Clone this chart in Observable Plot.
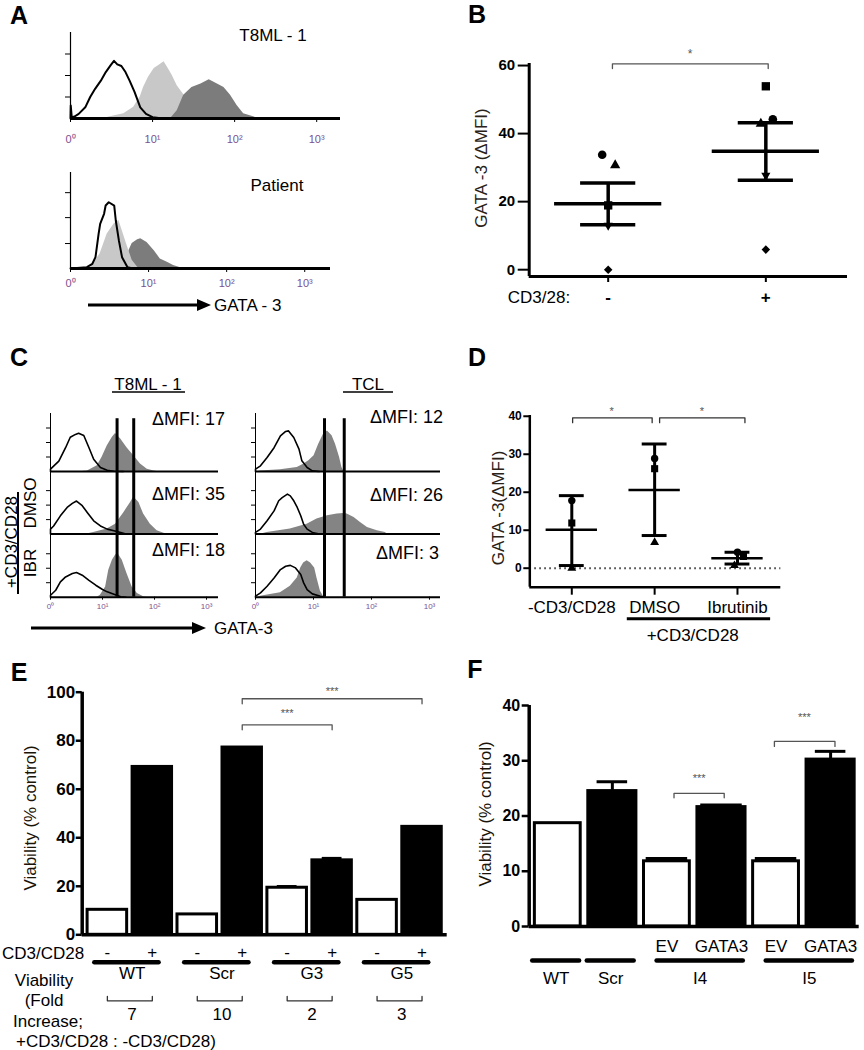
<!DOCTYPE html>
<html><head><meta charset="utf-8">
<script src="https://cdn.jsdelivr.net/npm/d3@7"></script>
<script src="https://cdn.jsdelivr.net/npm/@observablehq/plot@0.6"></script>
<style>
body{margin:0;background:#fff;}
#fig{position:relative;width:864px;height:1050px;overflow:hidden;background:#fff;font-family:"Liberation Sans",Arial,Helvetica,sans-serif;color:#000;}
.lbl{position:absolute;white-space:nowrap;line-height:1;}
</style></head><body><div id="fig"></div>
<script>
// ================= DATA =================
const logTicks = ["0\u2070", "10\u00B9", "10\u00B2", "10\u00B3"];

// Panel A : histograms [log10 GATA-3, relative count]
const aTopOpen = [[0,0],[0.003,15],[0.015,1.6],[0.05,2.3],[0.1,5.4],[0.18,13],[0.24,25],[0.3,34.5],[0.37,44],[0.43,54],[0.49,62],[0.53,67],[0.57,63],[0.62,61],[0.67,54],[0.72,44],[0.78,31],[0.85,13],[0.92,5.4],[1.0,1.6],[1.1,0.4],[1.5,0]];
const aTopLight = [[0.4,0],[0.47,1.6],[0.65,5.4],[0.77,13],[0.85,25],[0.89,36],[0.95,48],[1.02,58],[1.08,62],[1.14,66],[1.18,60],[1.24,50],[1.3,38],[1.37,29],[1.43,21],[1.5,13],[1.59,5.4],[1.67,1.6],[1.75,0]];
const aTopDark = [[1.22,0],[1.3,9],[1.38,27],[1.48,36],[1.59,40],[1.69,45],[1.79,40],[1.87,36],[1.95,27],[2.03,15],[2.11,5.4],[2.24,1.6],[2.28,0]];
const aBotOpen = [[0,0],[0.21,1.4],[0.28,4.9],[0.32,11.8],[0.36,36],[0.38,46.5],[0.43,57],[0.45,65.6],[0.49,69],[0.56,65.6],[0.58,50],[0.62,29],[0.66,11.8],[0.73,1.4],[0.8,0]];
const aBotLight = [[0.22,0],[0.26,1.4],[0.38,15.3],[0.47,36],[0.56,46.5],[0.62,50],[0.66,40],[0.73,22.6],[0.79,8.7],[0.86,1.4],[0.9,0]];
const aBotDark = [[0.7,0],[0.75,18.8],[0.79,26],[0.86,30],[0.9,31],[0.98,27],[1.07,18.8],[1.15,10],[1.24,6.6],[1.32,3],[1.39,1.4],[1.45,0]];
const aTitles = ["T8ML - 1", "Patient"];

// Panel B
const bCats = ["-", "+"];
const bCircle = [33.8, 44.2];
const bTriangle = [30.7, 42.9];
const bSquare = [18.9, 53.9];
const bTriDown = [13.0, 27.7];
const bDiamond = [0, 5.9];
const bMean = [19.4, 34.8];
const bUpper = [25.5, 43.2];
const bLower = [13.2, 26.3];

// Panel C
const cLines = ["T8ML - 1", "TCL"];
const cMFI = [[17, 35, 18], [12, 26, 3]];
const cGates = [[1.28, 1.6], [1.19, 1.53]];
const cL1Open = [[0,0],[0,4],[0.16,18],[0.29,41],[0.38,59],[0.48,64],[0.54,66],[0.64,62],[0.74,41],[0.83,21],[0.96,7],[1.09,2],[1.22,0.5],[1.4,0]];
const cL1Fill = [[0.6,0],[0.71,1],[0.9,10],[0.99,24],[1.09,44],[1.19,59],[1.25,65.5],[1.35,56],[1.47,41],[1.6,27],[1.73,13],[1.86,4],[1.99,1],[2.05,0]];
const cL2Open = [[0,0],[0,8.6],[0.06,14],[0.19,31.5],[0.32,46],[0.42,53],[0.5,57],[0.61,49],[0.71,37],[0.83,23],[0.96,14],[1.09,8.6],[1.22,5.7],[1.35,2.9],[1.45,0]];
const cL2Fill = [[0.7,0],[0.83,2.9],[1.09,8.6],[1.25,17],[1.41,37],[1.54,54.5],[1.6,64],[1.7,54.5],[1.79,34.5],[1.92,17],[2.05,5.7],[2.18,1.3],[2.25,0]];
const cL3Open = [[0,0],[0,3.4],[0.1,12],[0.19,26.4],[0.29,35],[0.42,40.8],[0.5,42.5],[0.61,38],[0.74,29],[0.87,20.7],[1.0,13.2],[1.09,9.2],[1.22,5.2],[1.35,0.6],[1.45,0]];
const cL3Fill = [[0.9,0],[0.96,3.4],[1.06,17.8],[1.12,46.5],[1.19,63.8],[1.25,72.4],[1.29,76.4],[1.38,63.8],[1.47,40.8],[1.57,17.8],[1.67,6.3],[1.79,0.6],[1.85,0]];
const cR1Open = [[0,0],[0,4],[0.086,9.8],[0.2,24],[0.32,41],[0.43,61.5],[0.52,69],[0.57,70],[0.66,58.6],[0.75,38.5],[0.8,18.4],[0.89,6.9],[0.98,1.1],[1.1,0]];
const cR1Fill = [[0.05,0],[0.086,1],[0.43,3],[0.72,7],[0.83,12.6],[0.92,18.4],[1.01,27],[1.09,47],[1.17,64],[1.24,70],[1.32,61.5],[1.38,47],[1.45,24],[1.49,6.9],[1.52,1],[1.55,0]];
const cR2Open = [[0,0],[0,2.9],[0.086,8.6],[0.2,23],[0.32,40],[0.4,57.5],[0.46,63],[0.55,69],[0.6,66],[0.66,57.5],[0.72,46],[0.78,31.6],[0.83,17],[0.89,8.6],[0.98,2.9],[1.1,0]];
const cR2Fill = [[0.1,0],[0.2,2.9],[0.6,8.6],[0.89,17],[1.06,26],[1.24,31.6],[1.41,34.5],[1.52,35.6],[1.58,34.5],[1.7,28.7],[1.81,20],[1.93,11.5],[2.1,5.7],[2.24,2.9],[2.27,0]];
const cR3Open = [[0,0],[0,1.7],[0.086,7.5],[0.2,19],[0.32,33],[0.43,47.7],[0.52,53.4],[0.6,55],[0.69,50.6],[0.78,39],[0.83,24.7],[0.89,13.2],[0.98,5.7],[1.12,1.7],[1.2,0]];
const cR3Fill = [[0.05,0],[0.086,1.7],[0.43,7.5],[0.6,19],[0.72,33],[0.78,50.6],[0.83,59],[0.89,63],[0.95,59],[1.02,50.6],[1.06,33],[1.12,10.3],[1.17,1.7],[1.19,0]];

// Panel D
const dCats = ["-CD3/CD28", "DMSO", "Ibrutinib"];
const dCircle = [17.8, 28.9, 4.2];
const dSquare = [11.9, 26.2, 3.1];
const dTriangle = [0, 6.8, 0.7];
const dMean = [10.1, 20.6, 2.6];
const dUpper = [19.1, 32.7, 4.2];
const dLower = [0.7, 8.6, 1.1];

// Panel E
const eGroups = ["WT", "Scr", "G3", "G5"];
const eMinus = [10.3, 8.4, 19.4, 14.4];
const eMinusErr = [0, 0, 0.6, 0];
const ePlus = [69.4, 77.4, 30.9, 44.7];
const ePlusErr = [0, 0, 0.7, 0];
const eFold = [7, 10, 2, 3];

// Panel F
const fBars = ["WT", "Scr", "EV", "GATA3", "EV", "GATA3"];
const fValues = [18.7, 24.6, 11.8, 21.7, 11.8, 30.3];
const fErr = [0, 1.6, 0.5, 0.3, 0.5, 1.4];
const fGroups = ["WT", "Scr", "I4", "I5"];
const fGroupBars = [[0], [1], [2, 3], [4, 5]];

// ================= HELPERS =================
const FONT = '"Liberation Sans", Arial, Helvetica, sans-serif';
const TICKC = "#7a5190";
const fig = document.getElementById("fig");

function makePlot(box, frame, opts) {
  const [x0, y0, x1, y1] = box, [fl, ft, fr, fb] = frame;
  const p = Plot.plot({
    width: x1 - x0, height: y1 - y0,
    marginLeft: fl - x0, marginRight: x1 - fr, marginTop: ft - y0, marginBottom: y1 - fb,
    style: {background: "transparent", overflow: "visible", fontFamily: FONT, fontSize: "15px", color: "#000"},
    ...opts
  });
  p.style.position = "absolute";
  p.style.left = x0 + "px";
  p.style.top = y0 + "px";
  p.style.maxWidth = "none";
  fig.appendChild(p);
  return p;
}
function T(txt, x, y, o = {}) {
  const d = document.createElement("div");
  d.className = "lbl";
  d.textContent = txt;
  const a = o.anchor || "middle";
  const tx = a === "start" ? "0" : a === "end" ? "-100%" : "-50%";
  d.style.left = x + "px";
  d.style.top = y + "px";
  d.style.fontSize = (o.size || 17) + "px";
  d.style.fontWeight = o.weight || "normal";
  d.style.color = o.color || "#000";
  d.style.transform = `translate(${tx},-50%)` + (o.rotate ? ` rotate(${o.rotate}deg)` : "");
  fig.appendChild(d);
}
const X0 = d => d[0], Y1 = d => d[1];

// ================= PANEL A =================
makePlot([0, 25, 360, 160], [70, 32, 340, 118], {
  x: {domain: [0, 3.29], axis: null}, y: {domain: [0, 100], axis: null},
  marks: [
    Plot.areaY(aTopLight, {x: X0, y1: 0, y2: Y1, fill: "#c8c8c8"}),
    Plot.areaY(aTopDark, {x: X0, y1: 0, y2: Y1, fill: "#7c7c7c"}),
    Plot.lineY(aTopOpen, {x: X0, y: Y1, stroke: "#000", strokeWidth: 2}),
    Plot.ruleX([0], {stroke: "#000", strokeWidth: 1.2}),
    Plot.ruleY([0], {stroke: "#000", strokeWidth: 3}),
    Plot.axisY({ticks: [25, 50, 75], tickSize: 5, tickFormat: () => "", label: null}),
    Plot.axisX({ticks: [0, 1, 2, 3], tickSize: 4, tickPadding: 13, tickFormat: d => logTicks[d], fontSize: 11, fill: TICKC, label: null})
  ]
});
makePlot([0, 165, 360, 300], [70, 172, 330, 268], {
  x: {domain: [0, 3.33], axis: null}, y: {domain: [0, 100], axis: null},
  marks: [
    Plot.areaY(aBotDark, {x: X0, y1: 0, y2: Y1, fill: "#7c7c7c"}),
    Plot.areaY(aBotLight, {x: X0, y1: 0, y2: Y1, fill: "#c8c8c8"}),
    Plot.lineY(aBotOpen, {x: X0, y: Y1, stroke: "#000", strokeWidth: 2}),
    Plot.ruleX([0], {stroke: "#000", strokeWidth: 1.2}),
    Plot.ruleY([0], {stroke: "#000", strokeWidth: 3}),
    Plot.axisY({ticks: [26, 53, 79], tickSize: 5, tickFormat: () => "", label: null}),
    Plot.axisX({ticks: [0, 1, 2, 3], tickSize: 4, tickPadding: 7, tickFormat: d => logTicks[d], fontSize: 11, fill: TICKC, label: null})
  ]
});
T("A", 19, 15, {size: 25, weight: "bold"});
T(aTitles[0], 273, 35, {size: 17});
T(aTitles[1], 277, 185, {size: 17});
T("GATA - 3", 214, 305, {size: 17, anchor: "start"});

// ================= PANEL B =================
const bIdx = bCats.map((c, i) => i);
const bShapes = [
  {vals: bCircle, symbol: "circle", r: 4.3, rot: 0, dx: [-6, 7]},
  {vals: bTriangle, symbol: "triangle", r: 3.8, rot: 0, dx: [7, -5]},
  {vals: bSquare, symbol: "square", r: 4.7, rot: 0, dx: [0, 0]},
  {vals: bTriDown, symbol: "triangle", r: 3.4, rot: 180, dx: [0, 0]},
  {vals: bDiamond, symbol: "square", r: 3.4, rot: 45, dx: [0, 0]}
];
makePlot([440, 40, 864, 320], [528.7, 63, 847, 276], {
  x: {domain: [-0.501, 1.518], axis: null}, y: {domain: [-2, 60.6], axis: null},
  marks: [
    ...bShapes.flatMap(s => bIdx.map(i => Plot.dot([i], {x: d => d, y: d => s.vals[d], symbol: s.symbol, r: s.r, rotate: s.rot, fill: "#000", stroke: "none", dx: s.dx[i]}))),
    Plot.ruleX(bIdx, {x: d => d, y1: d => bLower[d], y2: d => bUpper[d], stroke: "#000", strokeWidth: 3.5}),
    Plot.ruleY(bIdx, {x1: d => d - 0.34, x2: d => d + 0.34, y: d => bMean[d], stroke: "#000", strokeWidth: 3.5}),
    Plot.ruleY(bIdx, {x1: d => d - 0.175, x2: d => d + 0.175, y: d => bUpper[d], stroke: "#000", strokeWidth: 3.5}),
    Plot.ruleY(bIdx, {x1: d => d - 0.175, x2: d => d + 0.175, y: d => bLower[d], stroke: "#000", strokeWidth: 3.5}),
    Plot.line([[0.027, 59.1], [0.027, 60.5], [1.015, 60.5], [1.015, 59.1]], {x: X0, y: Y1, stroke: "#555", strokeWidth: 1.3}),
    Plot.text(["*"], {x: 0.52, y: 63.2, text: d => d, fontSize: 12, fill: "#555"}),
    Plot.ruleX([-0.501], {stroke: "#000", strokeWidth: 3}),
    Plot.ruleY([-2], {stroke: "#000", strokeWidth: 3}),
    Plot.axisY({ticks: [0, 20, 40, 60], tickSize: 11, tickPadding: 3, fontSize: 15, fontWeight: "bold", label: null, strokeWidth: 2}),
    Plot.axisX({ticks: bIdx, tickSize: 6, tickPadding: 8, tickFormat: d => bCats[d], fontSize: 17, fontWeight: "bold", label: null, strokeWidth: 2})
  ]
});
T("B", 477, 14, {size: 25, weight: "bold"});
T("GATA -3 (\u0394MFI)", 481, 168, {size: 17, rotate: -90, color: "#2a2218"});
T("CD3/28:", 539, 297, {size: 17});

// ================= PANEL C =================
const cHist = [
  [{open: cL1Open, fill: cL1Fill}, {open: cL2Open, fill: cL2Fill}, {open: cL3Open, fill: cL3Fill}],
  [{open: cR1Open, fill: cR1Fill}, {open: cR2Open, fill: cR2Fill}, {open: cR3Open, fill: cR3Fill}]
];
const cRowFrames = [[412.7, 470.7], [470.7, 533.3], [533.3, 597]];
const cRowTop = [100, 108, 110];
const cColFrames = [[50, 218, 3.23], [255, 440, 3.19]];
cHist.forEach((col, c) => {
  const [cx0, cx1, xmax] = cColFrames[c];
  col.forEach((h, r) => {
    const [ft, fb] = cRowFrames[r];
    makePlot([cx0 - 20, ft - 8, cx1 + 8, fb + (r === 2 ? 22 : 2)], [cx0, ft, cx1, fb], {
      x: {domain: [0, xmax], axis: null}, y: {domain: [0, cRowTop[r]], axis: null},
      marks: [
        Plot.areaY(h.fill, {x: X0, y1: 0, y2: Y1, fill: "#848484"}),
        Plot.lineY(h.open, {x: X0, y: Y1, stroke: "#000", strokeWidth: 1.6}),
        Plot.ruleX(cGates[c], {x: d => d, y1: 0, y2: r === 0 ? 91 : cRowTop[r], stroke: "#000", strokeWidth: 3}),
        Plot.ruleX([0], {stroke: "#000", strokeWidth: 1}),
        Plot.ruleY([0], {stroke: "#000", strokeWidth: 2}),
        Plot.axisY({ticks: [25, 50, 75], tickSize: 4, tickFormat: () => "", label: null}),
        ...(r === 2 ? [Plot.axisX({ticks: [0, 1, 2, 3], tickSize: 3, tickPadding: 3, tickFormat: d => logTicks[d], fontSize: 8, fill: TICKC, label: null})] : [])
      ]
    });
  });
});
T("C", 19, 357, {size: 25, weight: "bold"});
T(cLines[0], 148, 384, {size: 17});
T(cLines[1], 368, 384, {size: 17});
const cMfiY = [[419, 494, 550], [417, 495, 553]];
const cMfiX = [[152, 152, 152], [370, 370, 376]];
cMFI.forEach((col, c) => col.forEach((v, r) => T(`\u0394MFI: ${v}`, cMfiX[c][r], cMfiY[c][r], {size: 18, anchor: "start"})));
T("+CD3/CD28", 11, 542, {size: 17, rotate: -90});
T("DMSO", 30, 503, {size: 17, rotate: -90});
T("IBR", 30, 563, {size: 17, rotate: -90});
T("GATA-3", 214, 628, {size: 17, anchor: "start"});

// ================= PANEL D =================
const dIdx = dCats.map((c, i) => i);
const dShapes = [
  {vals: dCircle, symbol: "circle", r: 3.7, dx: [0, 0, 0]},
  {vals: dSquare, symbol: "square", r: 4.0, dx: [0, 0, 6]},
  {vals: dTriangle, symbol: "triangle", r: 3.3, dx: [0, 0, -3]}
];
makePlot([440, 395, 864, 650], [529.3, 415, 780.3, 586.7], {
  x: {domain: [-0.507, 2.523], axis: null}, y: {domain: [-5, 40.2], axis: null},
  marks: [
    Plot.ruleY([0], {stroke: "#333", strokeWidth: 2, strokeDasharray: "1.5,3.5"}),
    ...dShapes.flatMap(s => dIdx.map(i => Plot.dot([i], {x: d => d, y: d => s.vals[d], symbol: s.symbol, r: s.r, fill: "#000", stroke: "none", dx: s.dx[i]}))),
    Plot.ruleX(dIdx, {x: d => d, y1: d => dLower[d], y2: d => dUpper[d], stroke: "#000", strokeWidth: 3}),
    Plot.ruleY(dIdx, {x1: d => d - 0.31, x2: d => d + 0.31, y: d => dMean[d], stroke: "#000", strokeWidth: 2.5}),
    Plot.ruleY(dIdx, {x1: d => d - 0.15, x2: d => d + 0.15, y: d => dUpper[d], stroke: "#000", strokeWidth: 3}),
    Plot.ruleY(dIdx, {x1: d => d - 0.15, x2: d => d + 0.15, y: d => dLower[d], stroke: "#000", strokeWidth: 3}),
    Plot.line([[0.01, 38.3], [0.01, 39.6], [0.97, 39.6], [0.97, 38.3]], {x: X0, y: Y1, stroke: "#333", strokeWidth: 1.3}),
    Plot.line([[1.06, 38.3], [1.06, 39.6], [2.09, 39.6], [2.09, 38.3]], {x: X0, y: Y1, stroke: "#333", strokeWidth: 1.3}),
    Plot.text(["*", "*"], {x: (d, i) => [0.48, 1.57][i], y: 41.3, text: d => d, fontSize: 11, fill: "#555"}),
    Plot.ruleY([-13.3], {x1: dIdx[1] - 0.33, x2: dIdx[2] + 0.4, stroke: "#000", strokeWidth: 3}),
    Plot.text(["+CD3/CD28"], {x: (dIdx[1] + dIdx[2]) / 2 - 0.04, y: -17.8, text: d => d, fontSize: 17}),
    Plot.ruleX([-0.507], {stroke: "#000", strokeWidth: 2.5}),
    Plot.ruleY([-5], {stroke: "#000", strokeWidth: 2.5}),
    Plot.axisY({ticks: [0, 10, 20, 30, 40], tickSize: 6, tickPadding: 2, fontSize: 12, fontWeight: "bold", label: null, strokeWidth: 2}),
    Plot.axisX({ticks: dIdx, tickSize: 8, tickPadding: 6, tickFormat: d => dCats[d], fontSize: 17, label: null, strokeWidth: 2})
  ]
});
T("D", 477, 357, {size: 25, weight: "bold"});
T("GATA -3(\u0394MFI)", 498, 508, {size: 17, rotate: -90, color: "#2a2218"});

// ================= PANEL E =================
const eTable = eGroups.flatMap((g, i) => [
  {k: 2 * i, sign: "-", v: eMinus[i], err: eMinusErr[i]},
  {k: 2 * i + 1, sign: "+", v: ePlus[i], err: ePlusErr[i]}
]);
const eGi = eGroups.map((g, i) => i);
makePlot([0, 640, 460, 1050], [81.7, 691.7, 446.7, 934.3], {
  x: {domain: [-0.56, 7.56], axis: null}, y: {domain: [0, 100], axis: null},
  marks: [
    Plot.rect(eTable.filter(d => d.sign === "-"), {x1: d => d.k - 0.44, x2: d => d.k + 0.44, y1: 0, y2: d => d.v, fill: "#fff", stroke: "#000", strokeWidth: 3}),
    Plot.rect(eTable.filter(d => d.sign === "+"), {x1: d => d.k - 0.45, x2: d => d.k + 0.45, y1: 0, y2: d => d.v, fill: "#000", stroke: "#000", strokeWidth: 2}),
    Plot.ruleX(eTable.filter(d => d.err > 0), {x: d => d.k, y1: d => d.v, y2: d => d.v + d.err, stroke: "#000", strokeWidth: 2}),
    Plot.ruleY(eTable.filter(d => d.err > 0), {x1: d => d.k - 0.22, x2: d => d.k + 0.22, y: d => d.v + d.err, stroke: "#000", strokeWidth: 2.5}),
    Plot.line([[3, 95.2, 0], [3, 97.3, 0], [7, 97.3, 0], [7, 95.2, 0], [3, 84.5, 1], [3, 86.5, 1], [5, 86.5, 1], [5, 84.5, 1]], {x: X0, y: Y1, z: d => d[2], stroke: "#555", strokeWidth: 1.3}),
    Plot.text(["***", "***"], {x: (d, i) => [5, 4][i], y: (d, i) => [100.3, 91.3][i], text: d => d, fontSize: 11, fill: "#555"}),
    Plot.ruleY(eGi, {x1: i => 2 * i - 0.28, x2: i => 2 * i + 1.15, y: -11.3, stroke: "#000", strokeWidth: 4.5, strokeLinecap: "round"}),
    Plot.text(eGroups, {x: (g, i) => 2 * i + 0.55, y: -16.1, text: d => d, fontSize: 17}),
    Plot.line(eGi.flatMap(i => [[2 * i, -25.4, i], [2 * i, -27.2, i], [2 * i + 1, -27.2, i], [2 * i + 1, -25.4, i]]), {x: X0, y: Y1, z: d => d[2], stroke: "#333", strokeWidth: 1.3}),
    Plot.text(eFold, {x: (f, i) => 2 * i + 0.55, y: -32.7, text: d => String(d), fontSize: 17}),
    Plot.ruleX([-0.56], {stroke: "#000", strokeWidth: 3.5}),
    Plot.ruleY([0], {stroke: "#000", strokeWidth: 3.5}),
    Plot.axisY({ticks: [0, 20, 40, 60, 80, 100], tickSize: 6, tickPadding: 1, fontSize: 17, fontWeight: "bold", label: null, strokeWidth: 2.5}),
    Plot.axisX({ticks: eTable.map(d => d.k), tickSize: 0, tickPadding: 11, tickFormat: k => eTable[k].sign, fontSize: 17, label: null})
  ]
});
T("E", 19, 672, {size: 25, weight: "bold"});
T("Viability (% control)", 30, 818, {size: 17, rotate: -90, color: "#1a1408"});
T("CD3/CD28", 43, 953, {size: 17});
T("Viability", 44, 980, {size: 17});
T("(Fold", 44, 1000, {size: 17});
T("Increase;", 48, 1021, {size: 17});
T("+CD3/CD28 : -CD3/CD28)", 116, 1041, {size: 17});

// ================= PANEL F =================
const fIdx = fBars.map((b, i) => i);
const isBlack = b => b === "Scr" || b === "GATA3";
const fGi = fGroups.map((g, i) => i);
const gStart = i => fGroupBars[i][0] - (fGroupBars[i].length > 1 ? 0.18 : 0.46);
const gEnd = i => fGroupBars[i][fGroupBars[i].length - 1] + 0.4;
makePlot([440, 640, 864, 1000], [528.7, 705, 858.7, 926], {
  x: {domain: [-0.524, 5.524], axis: null}, y: {domain: [0, 40], axis: null},
  marks: [
    Plot.ruleX(fIdx.filter(i => fErr[i] > 0), {x: i => i, y1: i => fValues[i], y2: i => fValues[i] + fErr[i], stroke: "#000", strokeWidth: 3}),
    Plot.ruleY(fIdx.filter(i => fErr[i] > 0), {x1: i => i - (fErr[i] > 1 ? 0.28 : 0.38), x2: i => i + (fErr[i] > 1 ? 0.28 : 0.38), y: i => fValues[i] + fErr[i], stroke: "#000", strokeWidth: 3}),
    Plot.rect(fIdx.filter(i => !isBlack(fBars[i])), {x1: i => i - 0.42, x2: i => i + 0.42, y1: 0, y2: i => fValues[i], fill: "#fff", stroke: "#000", strokeWidth: 3}),
    Plot.rect(fIdx.filter(i => isBlack(fBars[i])), {x1: i => i - 0.45, x2: i => i + 0.45, y1: 0, y2: i => fValues[i], fill: "#000", stroke: "#000", strokeWidth: 2}),
    Plot.line([[2.13, 23.3, 0], [2.13, 24.1, 0], [3.05, 24.1, 0], [3.05, 23.3, 0], [3.97, 32.6, 1], [3.97, 33.5, 1], [5.08, 33.5, 1], [5.08, 32.6, 1]], {x: X0, y: Y1, z: d => d[2], stroke: "#555", strokeWidth: 1.3}),
    Plot.text(["***", "***"], {x: (d, i) => [2.59, 4.52][i], y: (d, i) => [26.8, 37.9][i], text: d => d, fontSize: 11, fill: "#555"}),
    Plot.ruleY(fGi, {x1: gStart, x2: gEnd, y: -6.15, stroke: "#000", strokeWidth: 4.5, strokeLinecap: "round"}),
    Plot.text(fGroups, {x: (g, i) => (gStart(i) + gEnd(i)) / 2, y: -9.5, text: d => d, fontSize: 17}),
    Plot.ruleX([-0.524], {stroke: "#000", strokeWidth: 3.5}),
    Plot.ruleY([0], {stroke: "#000", strokeWidth: 3.5}),
    Plot.axisY({ticks: [0, 10, 20, 30, 40], tickSize: 7, tickPadding: 2, fontSize: 16, fontWeight: "bold", label: null, strokeWidth: 2.5}),
    Plot.axisX({ticks: fIdx, tickSize: 0, tickPadding: 13, tickFormat: i => (fBars[i] === "EV" || fBars[i] === "GATA3") ? fBars[i] : "", fontSize: 17, label: null})
  ]
});
T("F", 475, 669, {size: 25, weight: "bold"});
T("Viability (% control)", 485, 814, {size: 17, rotate: -90, color: "#1a1408"});

// ================= overlay decorations (arrows, underlines) =================
const ov = document.createElementNS("http://www.w3.org/2000/svg", "svg");
ov.setAttribute("width", 864); ov.setAttribute("height", 1050);
ov.style.position = "absolute"; ov.style.left = "0"; ov.style.top = "0"; ov.style.pointerEvents = "none";
ov.innerHTML = `
  <line x1="88" y1="305" x2="200" y2="305" stroke="#000" stroke-width="3"/>
  <polygon points="197,299 211,305 197,311" fill="#000"/>
  <line x1="31" y1="628" x2="195" y2="628" stroke="#000" stroke-width="3"/>
  <polygon points="192,622 206,628 192,634" fill="#000"/>
  <line x1="18" y1="492" x2="18" y2="594" stroke="#000" stroke-width="2"/>
  <line x1="112" y1="392" x2="185" y2="392" stroke="#000" stroke-width="1.5"/>
  <line x1="343" y1="392" x2="393" y2="392" stroke="#000" stroke-width="1.5"/>
`;
fig.appendChild(ov);
</script></body></html>
